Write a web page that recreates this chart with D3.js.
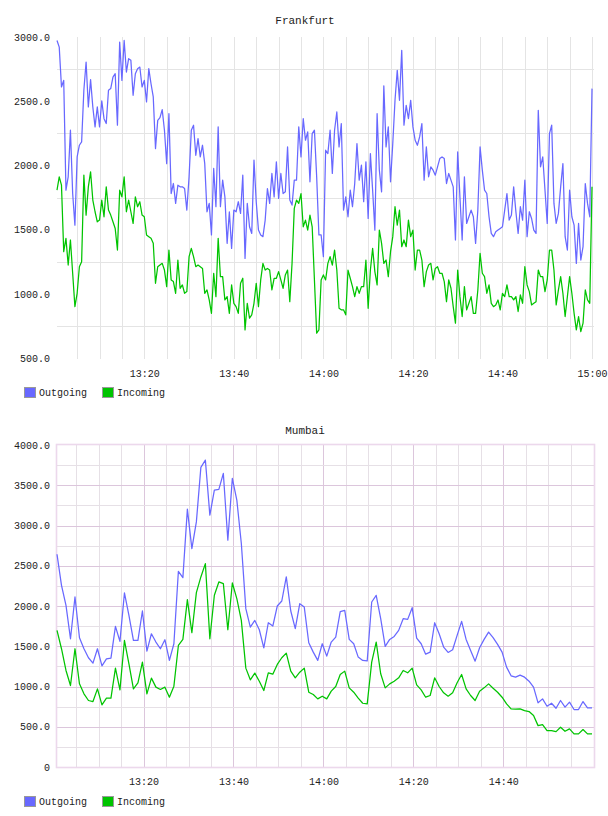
<!DOCTYPE html>
<html><head><meta charset="utf-8">
<script src="https://cdn.jsdelivr.net/npm/d3@7"></script>
<style>
body{margin:0;background:#fff}
svg{display:block}
text{font-family:"Liberation Mono","DejaVu Sans Mono",monospace;fill:#222}
</style>
</head><body><svg id="c" width="608" height="816"></svg>
<script>
// ---------- DATA ----------
const seriesNames = ["Outgoing", "Incoming"];
const frankfurtStart = "13:00:30", frankfurtStepSec = 30;
const mumbaiStart = "13:00:45", mumbaiStepSec = 60;

const frankfurtOutgoing = [
2973,2921,2611,2662,1807,1911,2274,1781,1535,2066,
2157,2183,2585,2805,2455,2668,2455,2300,2455,2300,
2502,2364,2326,2585,2598,2688,2714,2313,2960,2662,
2973,2727,2831,2818,2546,2714,2753,2766,2611,2662,
2494,2753,2636,2533,2131,2351,2372,2434,2274,2014,
2403,1781,1859,1704,1846,1833,1833,1820,1652,1911,
2274,2313,2079,2209,2066,2157,2014,1639,1704,1458,
1976,1678,2300,1678,1885,1755,1393,1639,1354,1652,
1639,1717,1626,1924,1276,1704,1522,1470,2041,1717,
1496,1458,1445,1574,1820,1704,1937,1755,2028,1743,
1937,1781,1794,2144,1730,1691,1885,1885,2300,2066,
2364,2196,2261,1872,2248,2274,1911,1458,1458,1289,
2118,2092,2274,1937,2274,2416,2144,2326,1652,1755,
1600,1807,1678,1859,2170,1885,2002,1717,2028,1587,
2092,1807,1496,2403,1963,1794,2620,2144,2300,1872,
2170,2507,2740,2507,2896,2313,2468,2364,2507,2300,
2196,2157,2222,2326,1885,2144,1911,1989,1963,1924,
1989,2053,2066,2053,1859,1937,1885,1833,1419,2105,
1755,1419,1911,1548,1600,1652,1600,1393,1652,2144,
1963,1807,1781,1600,1470,1445,1483,1496,1509,1522,
1652,1781,1574,1613,1833,1639,1470,1678,1574,1885,
1445,1639,1587,1496,1470,2429,1989,2066,1807,1548,
2248,2313,1704,1548,1626,1833,2014,1445,1341,1807,
1600,1535,1237,1548,1263,1367,1859,1704,1600,2598];

const frankfurtIncoming = [
1807,1911,1846,1328,1432,1224,1419,1160,900,1004,
1211,1250,1924,1613,1833,1950,1730,1639,1561,1574,
1730,1600,1833,1652,1613,1561,1509,1341,1807,1755,
1911,1639,1730,1639,1548,1755,1678,1717,1613,1600,
1458,1445,1432,1393,1082,1211,1224,1237,1185,1056,
1341,1108,1095,1004,1263,1043,1069,1004,1017,1289,
1354,1289,1211,1224,1211,1198,1004,1030,952,848,
1160,978,1432,1134,1134,952,978,848,1069,926,
900,848,1082,1121,719,926,811,836,926,1082,
900,1108,1237,1185,1198,1185,1030,1121,1121,1173,
1108,1043,1147,1185,939,1237,1665,1730,1704,1781,
1522,1574,1496,1613,1522,1108,693,719,1108,1147,
1108,1237,1289,1224,1341,1185,887,875,875,836,
1185,1121,1056,978,1056,1004,1056,1056,1263,887,
1185,1354,1173,1069,1496,1393,1237,1263,1134,1328,
1445,1678,1535,1652,1367,1419,1367,1574,1445,1496,
1185,1341,1341,1263,1056,1173,1224,1237,1108,1198,
1211,1160,1160,1095,939,1108,1043,900,771,1185,
978,823,1056,875,926,978,848,848,1030,1315,
1160,1134,1004,1069,926,900,913,952,875,1004,
978,1069,978,978,952,978,862,991,926,1211,
1069,1017,913,926,939,1185,1134,1134,1017,1108,
1341,1341,1185,913,1030,1134,1004,823,978,1134,
1004,848,719,823,706,771,1030,952,926,1833];

const mumbaiOutgoing = [
2643,2257,2008,1593,2112,1606,1469,1357,1290,1469,
1257,1344,1353,1747,1560,2162,1884,1572,1572,1938,
1440,1655,1552,1469,1581,1324,1531,2431,2352,3203,
2713,3045,3722,3813,3128,3440,3448,3647,2817,3585,
3315,2776,1967,1738,1821,1705,1481,1792,1751,2000,
2062,2361,1938,1718,2029,1987,1543,1427,1324,1531,
1377,1552,1614,1929,1946,1585,1531,1365,1324,1319,
2050,2133,1842,1498,1585,1622,1697,1842,1834,1979,
1601,1531,1402,1427,1792,1655,1490,1423,1456,1635,
1809,1585,1448,1315,1481,1585,1676,1606,1523,1427,
1241,1133,1116,1141,1116,1066,992,797,846,755,
792,730,826,743,805,714,714,813,734,734];

const mumbaiIncoming = [
1697,1469,1199,1012,1469,1033,909,826,813,971,
772,855,855,1228,958,1572,1282,971,1046,1303,
909,1104,992,963,992,867,1004,1510,1585,2079,
1668,2166,2361,2527,1593,2133,2299,2278,1705,2286,
2091,1821,1228,1083,1166,1066,950,1170,1153,1274,
1357,1415,1191,1108,1178,1228,929,900,846,880,
846,942,1000,1149,1191,983,929,855,792,784,
1303,1552,1158,983,1033,1066,1108,1199,1170,1228,
1021,958,867,888,1108,1000,921,880,921,1046,
1149,971,888,826,942,983,1033,979,929,867,
784,722,718,722,701,689,639,514,527,452,
452,440,494,444,473,411,411,465,411,411];

const frankfurtYTicks = [500,1000,1500,2000,2500,3000];
const frankfurtGridValues = [750,1250,1750,2250,2750];
const mumbaiYTicks = [0,500,1000,1500,2000,2500,3000,3500,4000];
const mumbaiGridValues = [250,500,750,1000,1250,1500,1750,2000,2250,2500,2750,3000,3250,3500,3750];

const colors = ["#6868ff", "#00c400"];

// ---------- DRAW ----------
const svg = d3.select("#c");
const parseT = d3.timeParse("%H:%M:%S");
function timesFrom(startStr, stepSec, n) {
  const s = parseT(startStr);
  return d3.range(n).map(i => new Date(s.getTime() + i * stepSec * 1000));
}

function drawChart(cfg) {
  const left = 57, right = 592;
  const times = timesFrom(cfg.start, cfg.step, cfg.series[0].length);
  const x = d3.scaleTime().domain(d3.extent(times)).range([left, right]);
  const y = d3.scaleLinear().domain(cfg.yDomain).range([cfg.bottom, cfg.top]);
  const g = svg.append("g");
  const px = v => Math.round(v) + 0.5;
  const [d0, d1] = x.domain();
  const fiveMin = d3.timeMinute.every(5).range(d0, new Date(d1.getTime() + 1));
  const isMajorT = t => t.getMinutes() % 20 === 0;

  if (cfg.style === "plain") {
    g.selectAll(".vg").data(fiveMin).join("line")
      .attr("x1", d => px(x(d))).attr("x2", d => px(x(d)))
      .attr("y1", cfg.top).attr("y2", cfg.bottom + 1)
      .attr("stroke", "#e4e4e4");
    g.selectAll(".hg").data(cfg.grid).join("line")
      .attr("x1", left).attr("x2", right + 2)
      .attr("y1", d => px(y(d))).attr("y2", d => px(y(d)))
      .attr("stroke", "#e4e4e4");
  } else {
    g.selectAll(".vg").data(fiveMin).join("line")
      .attr("x1", d => px(x(d))).attr("x2", d => px(x(d)))
      .attr("y1", cfg.top).attr("y2", cfg.bottom)
      .attr("stroke", d => isMajorT(d) ? "#dcc6dc" : "#e6e0e6");
    g.selectAll(".hg").data(cfg.grid).join("line")
      .attr("x1", left).attr("x2", right + 2)
      .attr("y1", d => px(y(d))).attr("y2", d => px(y(d)))
      .attr("stroke", d => d % 500 === 0 ? "#dcc6dc" : "#e6e0e6");
    g.append("rect")
      .attr("x", left - 0.5).attr("y", cfg.top - 0.5)
      .attr("width", right + 2 - left + 1).attr("height", cfg.bottom - cfg.top + 1)
      .attr("fill", "none").attr("stroke", "#ecd8ec").attr("stroke-width", 1.6);
  }

  const line = d3.line().x((d, i) => x(times[i])).y(d => y(d));
  cfg.series.forEach((s, k) => {
    g.append("path").datum(s)
      .attr("fill", "none").attr("stroke", colors[k])
      .attr("stroke-width", 1.25).attr("stroke-linejoin", "round")
      .attr("d", line);
  });

  const xAxis = g.append("g").attr("transform", `translate(0,${cfg.bottom})`)
    .call(d3.axisBottom(x).ticks(d3.timeMinute.every(20))
      .tickFormat(d3.timeFormat("%H:%M")).tickSize(0).tickPadding(cfg.xPad));
  const yAxis = g.append("g").attr("transform", `translate(${left},0)`)
    .call(d3.axisLeft(y).tickValues(cfg.yTicks)
      .tickFormat(d => d === 0 ? "0" : d.toFixed(1)).tickSize(0).tickPadding(7));
  [xAxis, yAxis].forEach(a => {
    a.select(".domain").remove();
    a.attr("font-family", null).attr("font-size", null);
    a.selectAll("text").attr("font-size", 10).attr("fill", "#222");
  });

  svg.append("text").attr("x", 305).attr("y", cfg.titleY)
    .attr("text-anchor", "middle").attr("font-size", 11).text(cfg.title);

  const lg = svg.append("g").attr("transform", `translate(24,${cfg.legendY})`);
  const offs = [0, 78];
  seriesNames.forEach((n, k) => {
    lg.append("rect").attr("x", offs[k] + 0.5).attr("y", 0.5).attr("width", 11).attr("height", 10)
      .attr("fill", colors[k]).attr("stroke", "#999");
    lg.append("text").attr("x", offs[k] + 15).attr("y", 9).attr("font-size", 10).text(n);
  });
}

drawChart({
  title: "Frankfurt", titleY: 24, top: 37, bottom: 358,
  yDomain: [500, 3000], yTicks: frankfurtYTicks, grid: frankfurtGridValues,
  start: frankfurtStart, step: frankfurtStepSec,
  series: [frankfurtOutgoing, frankfurtIncoming], style: "plain", legendY: 387, xPad: 12
});
drawChart({
  title: "Mumbai", titleY: 434, top: 445, bottom: 767,
  yDomain: [0, 4000], yTicks: mumbaiYTicks, grid: mumbaiGridValues,
  start: mumbaiStart, step: mumbaiStepSec,
  series: [mumbaiOutgoing, mumbaiIncoming], style: "mauve", legendY: 796, xPad: 11
});
</script>
</body></html>
